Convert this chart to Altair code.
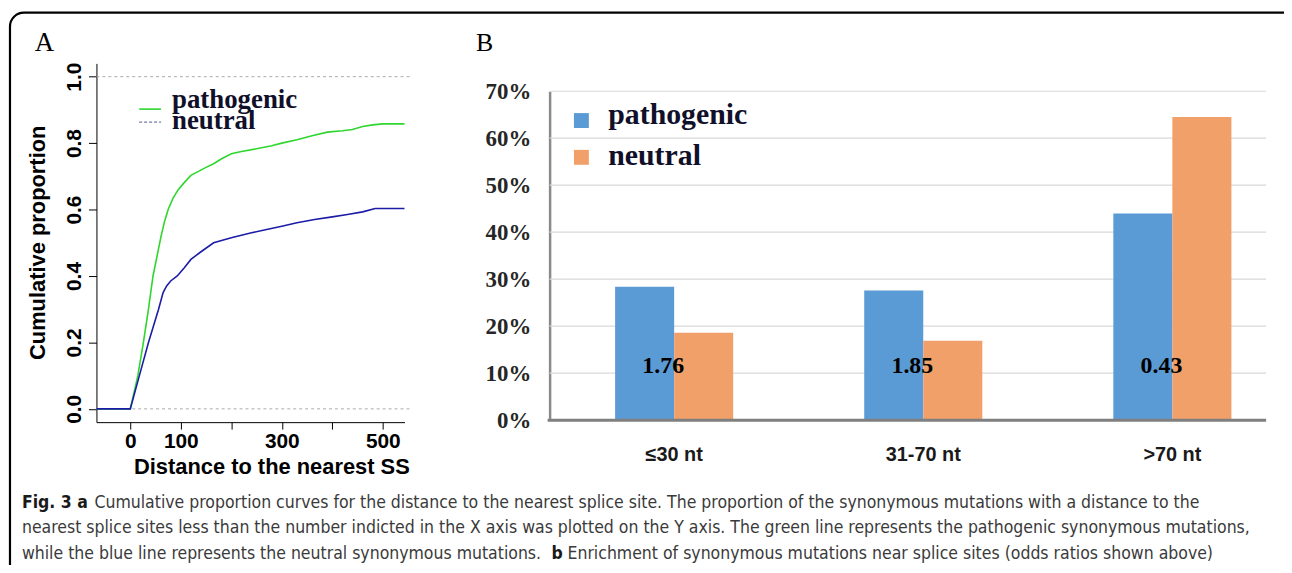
import altair as alt
import pandas as pd

# ---------------- Panel A data (cumulative proportion curves) ----------------
path_x = [-67, 0, 15, 26, 36, 45, 53, 61, 68, 75, 85, 95, 105, 120, 135, 150, 165, 180, 200,
          220, 250, 280, 300, 330, 360, 390, 420, 440, 460, 480, 500, 543]
path_y = [0, 0, 0.1, 0.2, 0.3, 0.4, 0.46, 0.52, 0.565, 0.6, 0.635, 0.66, 0.678, 0.703,
          0.715, 0.727, 0.738, 0.752, 0.768, 0.775, 0.783, 0.792, 0.80, 0.81, 0.822, 0.833,
          0.837, 0.841, 0.85, 0.855, 0.858, 0.858]
neut_x = [-67, 0, 18, 36, 56, 65, 72, 80, 93, 107, 120, 140, 165, 200, 240, 270, 300, 330,
          365, 400, 430, 460, 485, 543]
neut_y = [0, 0, 0.1, 0.2, 0.3, 0.35, 0.37, 0.385, 0.40, 0.425, 0.45, 0.473, 0.50, 0.515,
          0.53, 0.54, 0.55, 0.56, 0.57, 0.578, 0.585, 0.593, 0.603, 0.603]
series_names = ["pathogenic", "neutral"]
a_xticks = [0, 100, 200, 300, 400, 500]
a_yticks = [0, 0.2, 0.4, 0.6, 0.8, 1.0]
a_refs = [0, 1]

# ---------------- Panel B data (grouped bars) ----------------
categories = ["≤30 nt", "31-70 nt", ">70 nt"]
pathogenic_pct = [0.284, 0.276, 0.44]
neutral_pct = [0.186, 0.169, 0.645]
odds_ratios = ["1.76", "1.85", "0.43"]
b_yticks = [0, 0.1, 0.2, 0.3, 0.4, 0.5, 0.6, 0.7]

# ---------------- Caption ----------------
cap_l1_bold = "Fig. 3 a"
cap_l1 = ("Cumulative proportion curves for the distance to the nearest splice site. "
          "The proportion of the synonymous mutations with a distance to the")
cap_l2 = ("nearest splice sites less than the number indicted in the X axis was plotted on the "
          "Y axis. The green line represents the pathogenic synonymous mutations,")
cap_l3a = "while the blue line represents the neutral synonymous mutations."
cap_l3_bold = "b"
cap_l3b = "Enrichment of synonymous mutations near splice sites (odds ratios shown above)"

SANS = "Liberation Sans"
SERIF = "Liberation Serif"
CAPF = "DejaVu Sans Condensed, Liberation Sans"
CAPSIZE = 17.6

curves = pd.DataFrame(
    {"x": path_x + neut_x,
     "y": path_y + neut_y,
     "series": [series_names[0]] * len(path_x) + [series_names[1]] * len(neut_x),
     "order": list(range(len(path_x))) + list(range(len(neut_x)))}
)

A_X = alt.X("x:Q",
            scale=alt.Scale(domain=[-67, 543], range=[87, 397], nice=False, zero=False),
            axis=alt.Axis(orient="bottom", offset=-142, values=a_xticks,
                          labelExpr="(datum.value == 200 || datum.value == 400) ? '' : datum.label",
                          tickSize=7, tickColor="#000", domainColor="#000", grid=False,
                          labelFont=SANS, labelFontWeight="bold", labelFontSize=21,
                          labelColor="#000", labelPadding=2, labelFlush=False, labelOverlap=False,
                          title="Distance to the nearest SS", titleFont=SANS,
                          titleFontWeight="bold", titleFontSize=22, titleColor="#000",
                          titleX=263, titleY=52, titleAlign="center",
                          titleBaseline="alphabetic"))
A_Y = alt.Y("y:Q",
            scale=alt.Scale(domain=[-0.04, 1.04], range=[412, 51], nice=False, zero=False),
            axis=alt.Axis(orient="left", offset=-87, values=a_yticks, format=".1f",
                          tickSize=8, tickColor="#000", domainColor="#000", grid=False,
                          labelAngle=270, labelAlign="center", labelBaseline="alphabetic",
                          labelPadding=8, labelFont=SANS, labelFontWeight="bold",
                          labelFontSize=21, labelColor="#000", labelFlush=False,
                          labelOverlap=False,
                          title="Cumulative proportion", titleFont=SANS,
                          titleFontWeight="bold", titleFontSize=22, titleColor="#000",
                          titleAngle=270, titleX=-52, titleY=231, titleAlign="center",
                          titleBaseline="alphabetic"))

a_ref = alt.Chart(pd.DataFrame({"y": a_refs})).mark_rule(
    color="#aaaaaa", strokeDash=[3, 3], strokeWidth=1
).encode(y=A_Y, x=alt.value(87), x2=alt.value(405))

a_lines = alt.Chart(curves).mark_line(strokeWidth=1.6).encode(
    x=A_X, y=A_Y,
    color=alt.Color("series:N", scale=alt.Scale(domain=series_names,
                                                range=["#2ed62e", "#1c1ca8"]), legend=None),
    order="order:Q",
)

panelA = alt.layer(a_ref, a_lines)

# ---------------- Panel B ----------------
bars = pd.DataFrame(
    {"cat": categories * 2,
     "series": [series_names[0]] * 3 + [series_names[1]] * 3,
     "val": pathogenic_pct + neutral_pct}
)
B_X = alt.X("cat:N", sort=categories,
            scale=alt.Scale(domain=categories, range=[543, 1295],
                            paddingInner=0.526, paddingOuter=0.263),
            axis=alt.Axis(orient="bottom", offset=-144, domain=False, ticks=False, tickSize=0,
                          grid=False, labelAngle=0, labelFont=SANS, labelFontWeight="bold",
                          labelFontSize=20, labelColor="#1a1a1a", labelPadding=41,
                          labelBaseline="alphabetic", title=None))
B_Y = alt.Y("val:Q",
            scale=alt.Scale(domain=[0, 0.7], range=[410, 79], nice=False, zero=True),
            axis=alt.Axis(orient="left", offset=-543, values=b_yticks, format=".0%",
                          ticks=False, tickSize=0, grid=False, domainColor="#8a8a8a",
                          domainWidth=2.5, labelFont=SERIF, labelFontWeight="bold",
                          labelFontSize=23, labelColor="#262626", labelPadding=19,
                          labelBaseline="middle", labelFlush=False, labelOverlap=False,
                          title=None))

b_grid = alt.Chart(pd.DataFrame({"val": b_yticks[1:]})).mark_rule(
    color="#d9d9d9", strokeWidth=1.2
).encode(y=B_Y, x=alt.value(543), x2=alt.value(1264))

b_bars = alt.Chart(bars).mark_bar().encode(
    x=B_X, y=B_Y,
    xOffset=alt.XOffset("series:N", sort=series_names,
                        scale=alt.Scale(domain=series_names, paddingInner=0, paddingOuter=0)),
    color=alt.Color("series:N", scale=alt.Scale(domain=series_names,
                                                range=["#5b9bd5", "#f0a068"]), legend=None),
)

b_base = alt.Chart(pd.DataFrame({"val": [0]})).mark_rule(
    color="#7f7f7f", strokeWidth=3
).encode(y=B_Y, x=alt.value(541), x2=alt.value(1264))

b_or = alt.Chart(pd.DataFrame({"cat": categories, "t": odds_ratios})).mark_text(
    font=SERIF, fontWeight="bold", fontSize=24, color="#000", dx=-11,
    align="center", baseline="alphabetic"
).encode(x=B_X, y=alt.value(363), text="t:N")

panelB = alt.layer(b_grid, b_bars, b_base, b_or)


# ---------------- Free text / legends / border ----------------
def txt(s, x, y, size, font, weight="normal", color="#000", align="left"):
    return alt.Chart(pd.DataFrame({"t": [s]})).mark_text(
        font=font, fontSize=size, fontWeight=weight, color=color,
        align=align, baseline="alphabetic"
    ).encode(x=alt.value(x), y=alt.value(y), text="t:N")


def seg(x1, x2, y, color, dash=None, width=1.6):
    kw = {"color": color, "strokeWidth": width}
    if dash:
        kw["strokeDash"] = dash
    return alt.Chart(pd.DataFrame({"k": [0]})).mark_rule(**kw).encode(
        x=alt.value(x1), x2=alt.value(x2), y=alt.value(y))


def square(x, y, color):
    return alt.Chart(pd.DataFrame({"k": [0]})).mark_point(
        shape="square", filled=True, size=225, color=color, opacity=1
    ).encode(x=alt.value(x), y=alt.value(y))


legend_col = "#10102a"
extras = [
    # border
    alt.Chart(pd.DataFrame({"k": [0]})).mark_rect(
        fill="#ffffff", fillOpacity=0, stroke="#000", strokeWidth=2.2, cornerRadius=14
    ).encode(x=alt.value(0), x2=alt.value(1320), y=alt.value(0), y2=alt.value(620)),
    # panel letters
    txt("A", 25, 39, 27, SERIF),
    txt("B", 469, 39, 26, SERIF),
    # legend A
    seg(130, 152, 97, "#2ed62e"),
    seg(130, 152, 110, "#7878a8", dash=[3, 2], width=1.3),
    txt(series_names[0], 163, 96, 27, SERIF, "bold", legend_col),
    txt(series_names[1], 163, 117, 27, SERIF, "bold", legend_col),
    # legend B
    square(575, 108.5, "#5b9bd5"),
    square(575, 145.5, "#f0a068"),
    txt(series_names[0], 602, 112, 30, SERIF, "bold", legend_col),
    txt(series_names[1], 602, 153, 30, SERIF, "bold", legend_col),
    # caption
    txt(cap_l1_bold, 12, 498, CAPSIZE, CAPF, "bold", "#1a1a1a"),
    txt(cap_l1, 85, 498, CAPSIZE, CAPF, "normal", "#3a3a3a"),
    txt(cap_l2, 12, 524, CAPSIZE, CAPF, "normal", "#3a3a3a"),
    txt(cap_l3a, 12, 550, CAPSIZE, CAPF, "normal", "#3a3a3a"),
    txt(cap_l3_bold, 545, 550, CAPSIZE, CAPF, "bold", "#1a1a1a"),
    txt(cap_l3b, 561, 550, CAPSIZE, CAPF, "normal", "#3a3a3a"),
]

chart = alt.layer(panelA, panelB, *extras).resolve_scale(
    x="independent", y="independent", color="independent"
).resolve_axis(
    x="independent", y="independent"
).properties(
    width=1282, height=554,
    autosize=alt.AutoSizeParams(type="none"),
    padding={"left": 2, "top": 3, "right": 0, "bottom": 0},
    background="#ffffff",
).configure_view(strokeWidth=0)

chart.save("out.html", embed_options={"renderer": "svg", "actions": False})
